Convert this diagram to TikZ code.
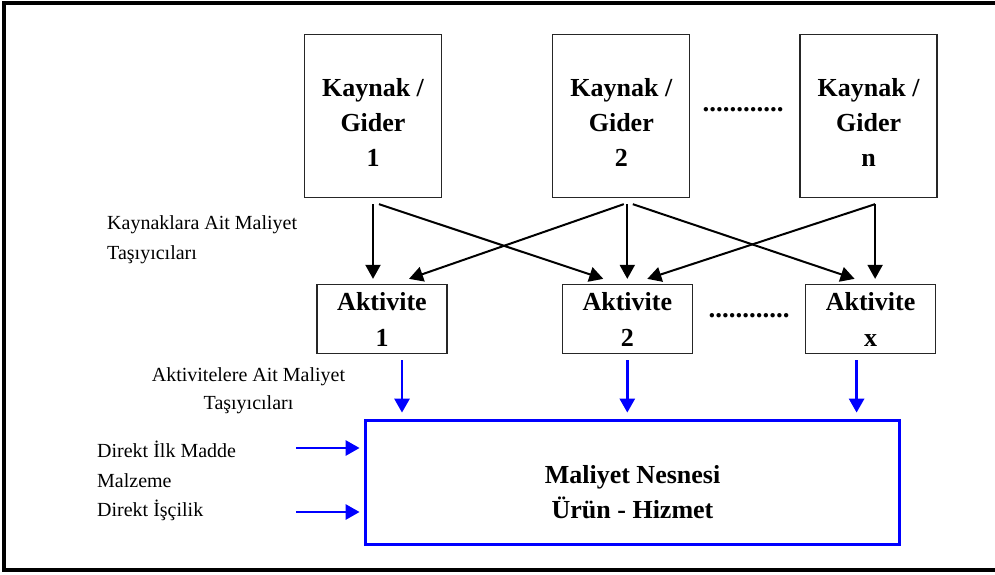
\documentclass[tikz,border=0pt]{standalone}
\usepackage{fontspec}
\setmainfont{Liberation Serif}
\usetikzlibrary{positioning,arrows.meta}
\tikzset{
  myarrow/.style={draw, line width=2pt, -{Triangle[length=14pt,width=15pt]}},
  bluearrow/.style={draw=blue, line width=2.8pt, -{Triangle[length=14pt,width=15pt]}},
}

\begin{document}
\begin{tikzpicture}[x=1pt,y=-1pt]
    \tikzset{
        kaynakbox/.style={rectangle, draw=black!85, line width=1.3pt, inner sep=0pt,
          minimum width=137pt, minimum height=163pt, align=center,
          font=\fontsize{26}{35}\selectfont\bfseries},
        aktivitebox/.style={rectangle, draw=black!85, line width=1.3pt, inner sep=0pt,
          minimum width=130pt, minimum height=69pt, align=center,
          font=\fontsize{26}{36}\selectfont\bfseries},
        nesnebox/.style={rectangle, draw=blue, line width=3.8pt, inner sep=0pt,
          minimum width=534pt, minimum height=124pt, align=center,
          font=\fontsize{26}{35}\selectfont\bfseries},
        etiket/.style={inner sep=0pt, font=\fontsize{20}{30}\selectfont},
        noktalar/.style={inner sep=0pt, font=\fontsize{27}{27}\selectfont\bfseries},
    }
    \useasboundingbox (0,0) rectangle (995,574);
    \clip (0,0) rectangle (995,574);
    \draw[line width=3.2pt] (4,3) rectangle (1010,570);

    % kaynaklar
    \node[kaynakbox] (kaynak1) at (373,116) {\rule{0pt}{31pt}Kaynak /\\Gider\\1};
    \node[kaynakbox, right=110pt of kaynak1] (kaynak2) {\rule{0pt}{31pt}Kaynak /\\Gider\\2};
    \node[kaynakbox, right=109pt of kaynak2] (kaynakn) {\rule{0pt}{31pt}Kaynak /\\Gider\\n};
    \node[noktalar] (nokta1) at (743,110) {............};

    % aktiviteler
    \node[aktivitebox] (aktivite1) at (382,319) {Aktivite\\1};
    \node[aktivitebox, right=114pt of aktivite1] (aktivite2) {Aktivite\\2};
    \node[aktivitebox, right=112pt of aktivite2] (aktivitex) {Aktivite\\x};
    \node[noktalar] (nokta2) at (749,316) {............};

    % maliyet nesnesi
    \node[nesnebox] (nesne) at (632.5,482.5) {\rule{0pt}{37pt}Maliyet Nesnesi\\Ürün - Hizmet};

    \node[etiket, anchor=north west, align=left] (etiket1) at (107,215)
      {Kaynaklara Ait Maliyet\\Taşıyıcıları};
    \node[etiket, anchor=north, align=center, font=\fontsize{20}{28}\selectfont] (etiket2) at (248.5,367)
      {Aktivitelere Ait Maliyet\\Taşıyıcıları};
    \node[etiket, anchor=north west, align=left, font=\fontsize{20}{29.5}\selectfont] (etiket3) at (97,441)
      {Direkt İlk Madde\\Malzeme\\Direkt İşçilik};
    \coordinate (girdi1) at (296,448);
    \coordinate (girdi2) at (296,512);

    \path[myarrow] ([yshift=-6pt]kaynak1.south) -- ([yshift=5pt]kaynak1.south |- aktivite1.north);
    \path[myarrow] ([xshift=6pt,yshift=-6pt]kaynak1.south) -- ([xshift=-24pt,yshift=5pt]aktivite2.north);
    \path[myarrow] ([xshift=2.5pt,yshift=-6pt]kaynak2.south) -- ([xshift=27pt,yshift=5pt]aktivite1.north);
    \path[myarrow] ([yshift=-6pt]aktivite2.north |- kaynak2.south) -- ([yshift=5pt]aktivite2.north);
    \path[myarrow] ([xshift=11.5pt,yshift=-6pt]kaynak2.south) -- ([xshift=-16pt,yshift=5pt]aktivitex.north);
    \path[myarrow] ([xshift=6.5pt,yshift=-6pt]kaynakn.south) -- ([xshift=20pt,yshift=5pt]aktivite2.north);
    \path[myarrow] ([xshift=6.5pt,yshift=-6pt]kaynakn.south) -- ([xshift=6.5pt,yshift=5pt]kaynakn.south |- aktivitex.north);

    \path[bluearrow] ([xshift=20pt,yshift=-6pt]aktivite1.south) -- ([xshift=20pt,yshift=6pt]aktivite1.south |- nesne.north);
    \path[bluearrow] ([yshift=-6pt]aktivite2.south) -- ([yshift=6pt]aktivite2.south |- nesne.north);
    \path[bluearrow] ([xshift=-14pt,yshift=-6pt]aktivitex.south) -- ([xshift=-14pt,yshift=6pt]aktivitex.south |- nesne.north);
    \path[bluearrow] (girdi1) -- ([xshift=-4pt]girdi1 -| nesne.west);
    \path[bluearrow] (girdi2) -- ([xshift=-4pt]girdi2 -| nesne.west);
\end{tikzpicture}
\end{document}
